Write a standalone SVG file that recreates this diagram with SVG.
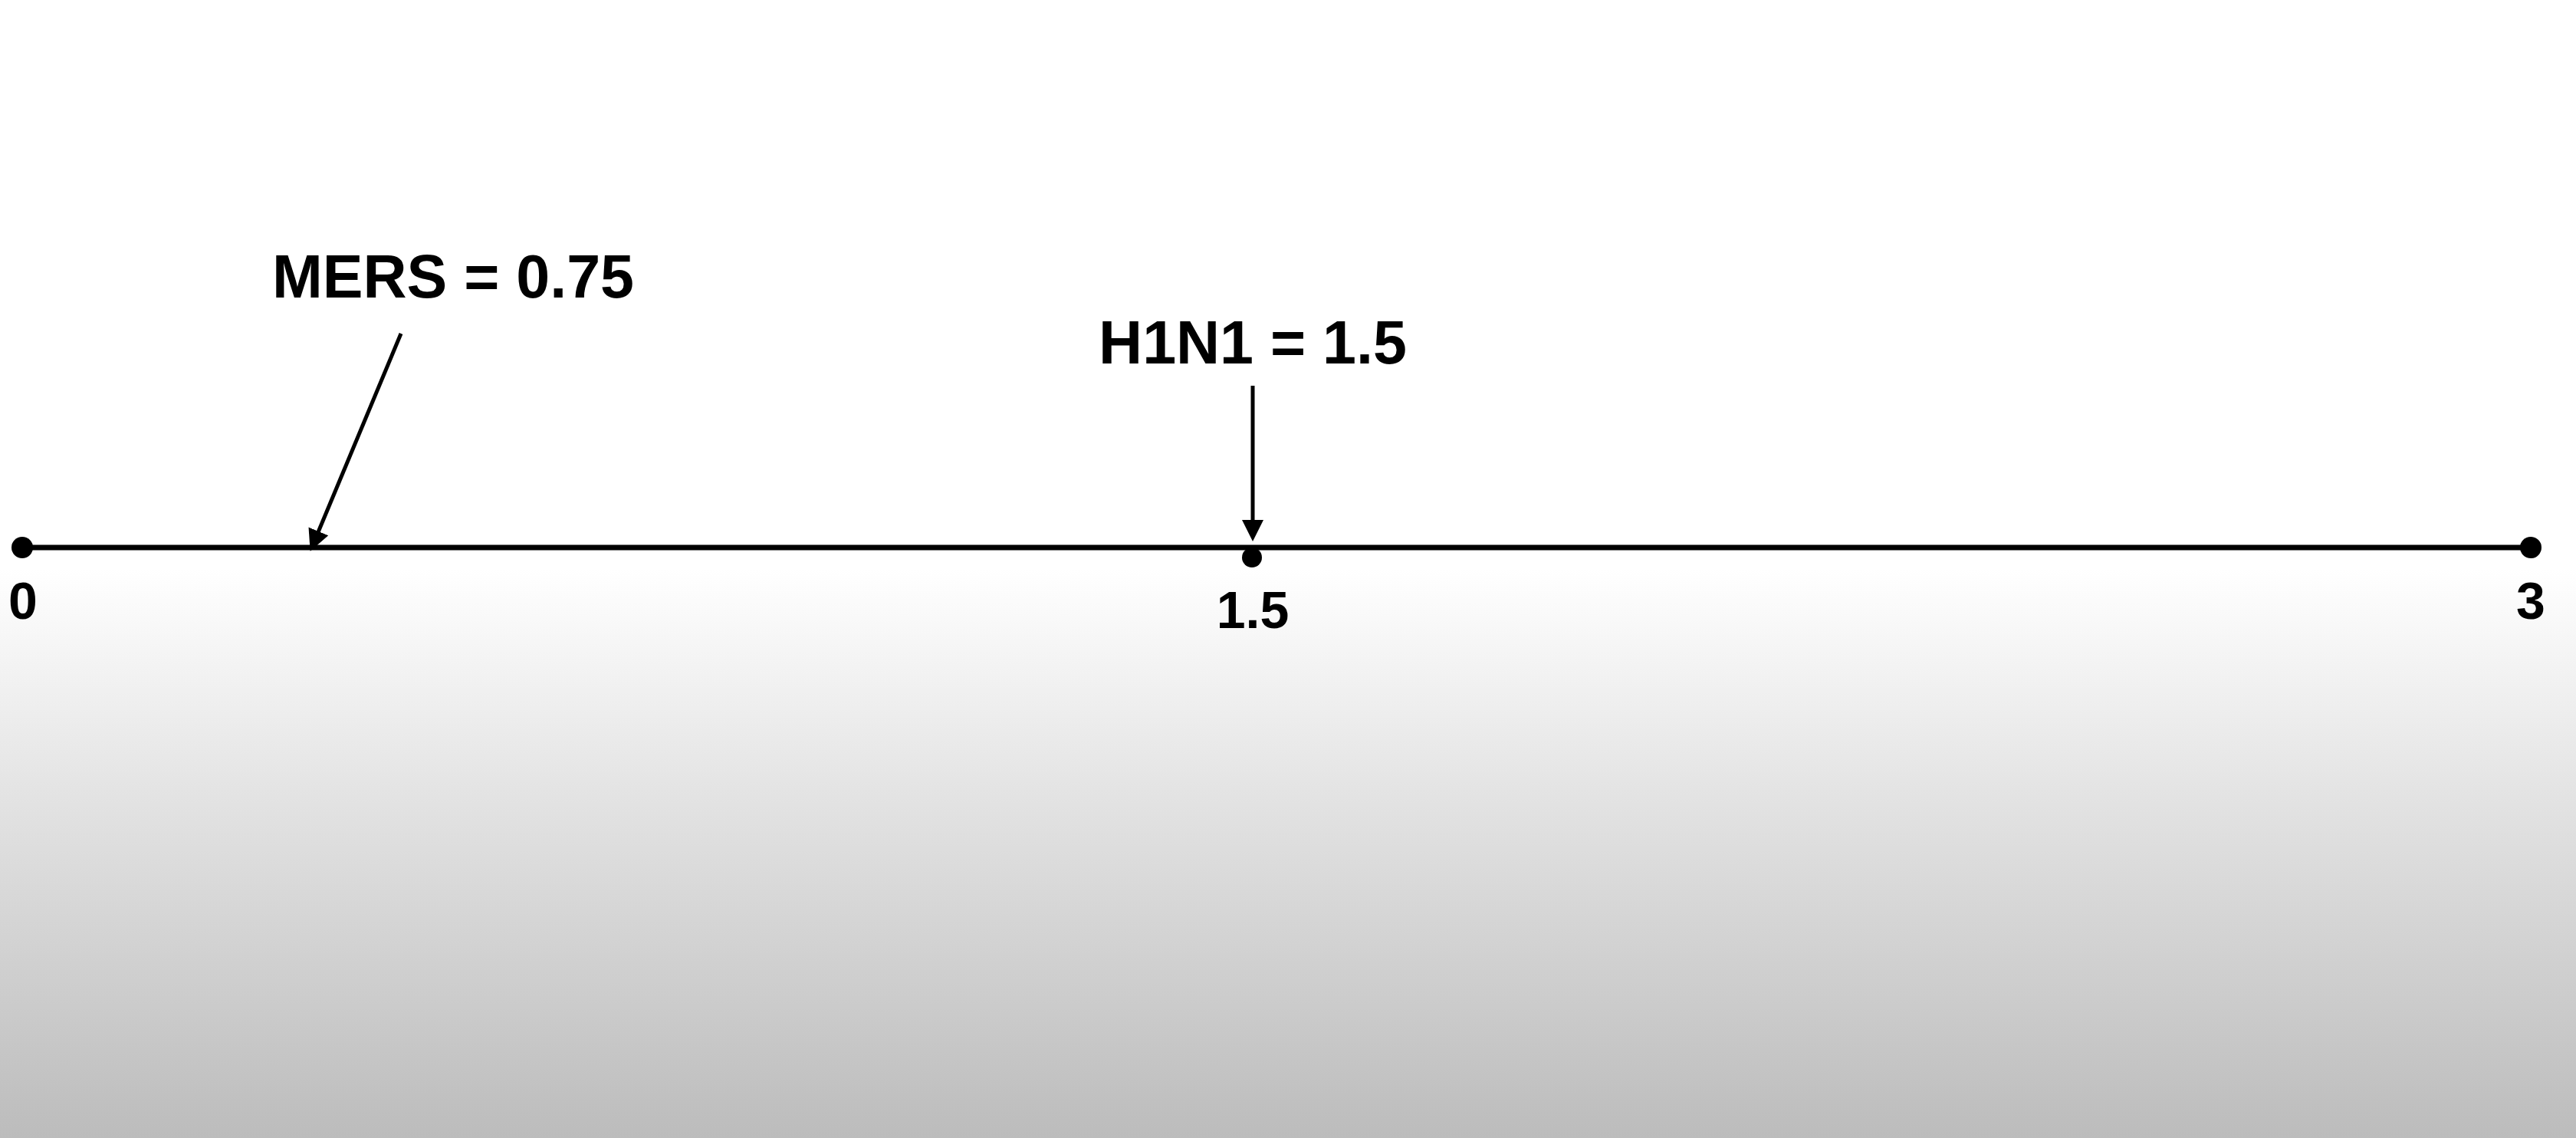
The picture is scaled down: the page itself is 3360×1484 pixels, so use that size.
<svg xmlns="http://www.w3.org/2000/svg" width="3360" height="1484" viewBox="0 0 3360 1484">
  <defs>
    <linearGradient id="bg" x1="0" y1="0" x2="0" y2="1">
      <stop offset="0" stop-color="#ffffff"/>
      <stop offset="0.5" stop-color="#ffffff"/>
      <stop offset="0.7" stop-color="#e3e3e3"/>
      <stop offset="1" stop-color="#bcbcbc"/>
    </linearGradient>
    <marker id="arrow" viewBox="0 0 28 28" refX="18" refY="14" markerWidth="28" markerHeight="28" markerUnits="userSpaceOnUse" orient="auto">
      <path d="M0,0 L28,14 L0,28 Z" fill="#000"/>
    </marker>
  </defs>
  <style>
    .lbl { font-family: "Liberation Sans", Arial, Helvetica, sans-serif; font-weight: bold; fill: #000; text-anchor: middle; }
    .big { font-size: 79px; }
    .tick { font-size: 68px; }
    .axis { stroke: #000; stroke-width: 7; fill: none; }
    .conn { stroke: #000; stroke-width: 5; fill: none; marker-end: url(#arrow); }
    .dot { fill: #000; }
  </style>
  <rect x="0" y="0" width="3360" height="1484" fill="url(#bg)"/>

  <g id="axis">
    <line class="axis" x1="29" y1="714" x2="3301" y2="714"/>
  </g>

  <g id="node-0">
    <circle class="dot" cx="29" cy="714" r="14"/>
    <text class="lbl tick" x="30" y="807">0</text>
  </g>
  <g id="node-1-5">
    <circle class="dot" cx="1633" cy="727" r="13"/>
    <text class="lbl tick" x="1634" y="819">1.5</text>
  </g>
  <g id="node-3">
    <circle class="dot" cx="3301" cy="714" r="14"/>
    <text class="lbl tick" x="3301" y="807">3</text>
  </g>

  <g id="label-mers">
    <text class="lbl big" x="591" y="388">MERS = 0.75</text>
  </g>
  <g id="label-h1n1">
    <text class="lbl big" x="1634" y="474">H1N1 = 1.5</text>
  </g>

  <g id="connectors">
    <line class="conn" x1="523" y1="435" x2="408.5" y2="709.5"/>
    <line class="conn" x1="1634" y1="503" x2="1634" y2="696"/>
  </g>
</svg>
